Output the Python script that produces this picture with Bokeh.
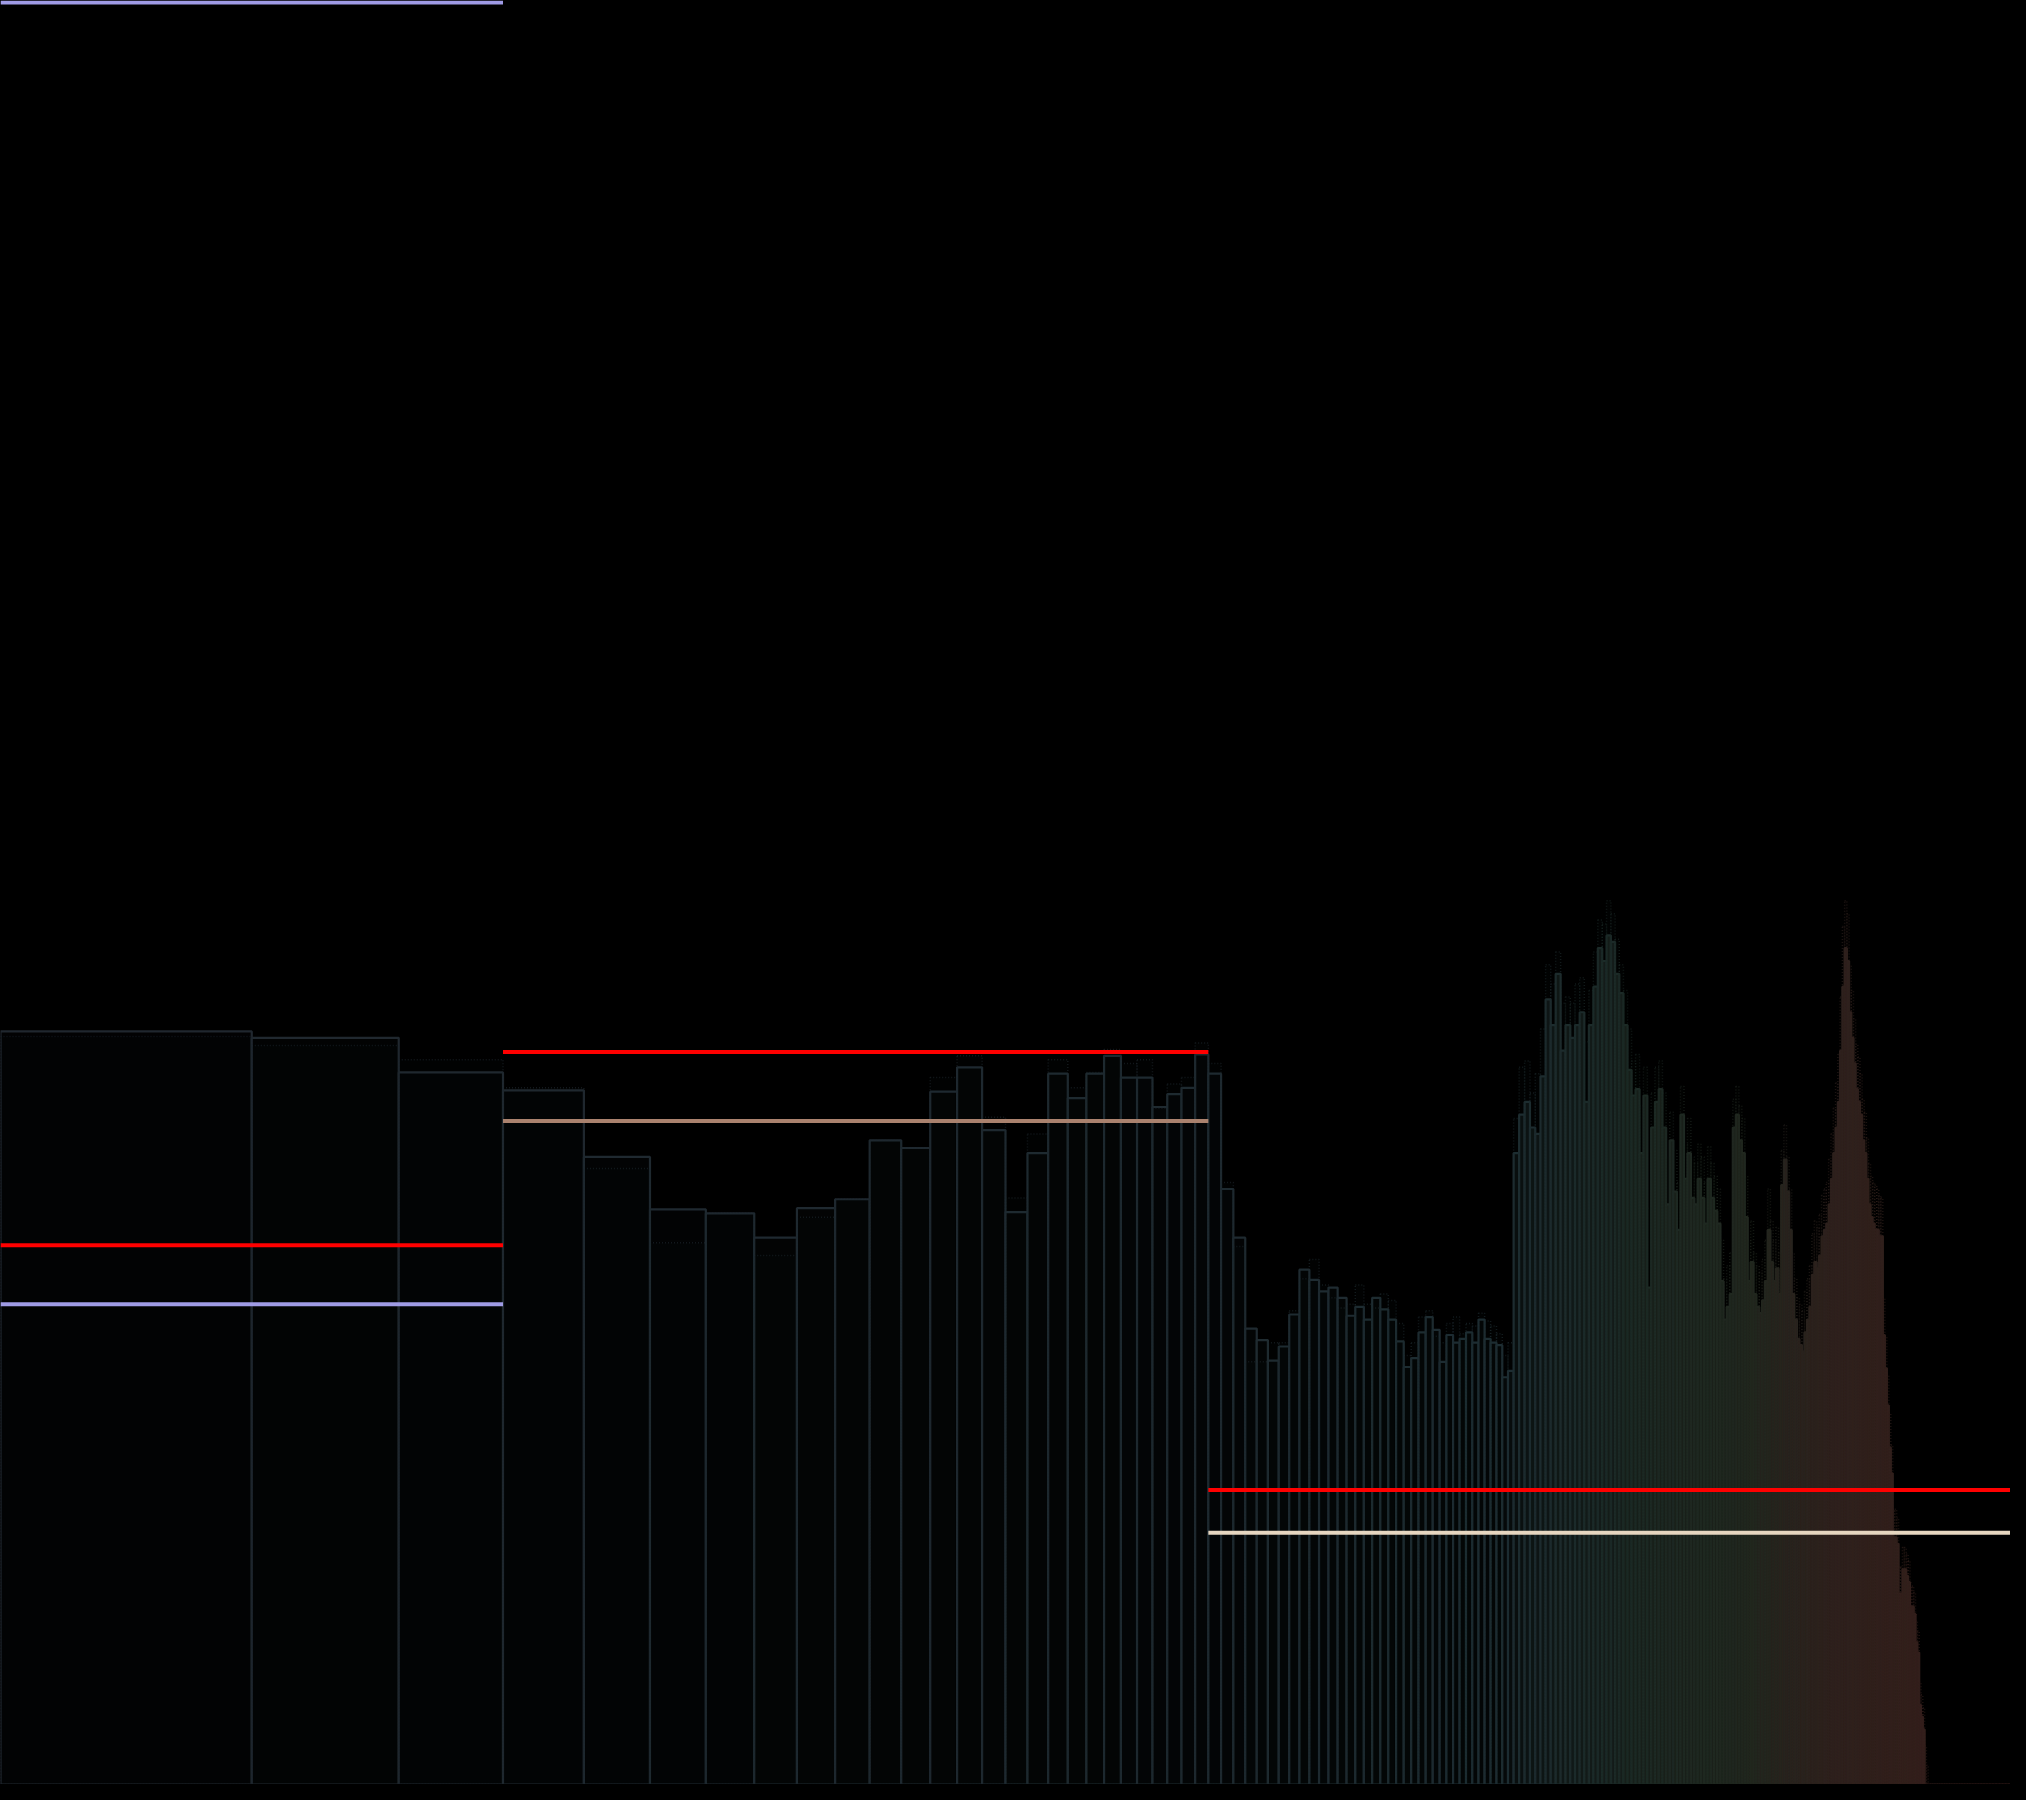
import math
from bokeh.plotting import figure
from bokeh.models import ColumnDataSource, Range1d
from bokeh.embed import file_html
from bokeh.resources import INLINE

# ---- data: 255 FFT bins on a log frequency axis ----
bins = list(range(1, 256))

level = [
    588, 583, 556, 542, 490, 449, 446, 427, 450, 457,
    503, 497, 541, 560, 511, 447, 493, 555, 536, 555,
    569, 552, 552, 529, 539, 544, 570, 555, 465, 427,
    356, 347, 331, 342, 367, 402, 394, 385, 388, 380,
    366, 373, 363, 380, 371, 363, 346, 326, 333, 353,
    365, 355, 330, 351, 345, 348, 353, 345, 363, 348,
    345, 343, 318, 323, 493, 523, 533, 513, 508, 553,
    613, 593, 633, 573, 593, 583, 593, 603, 533, 593,
    623, 653, 643, 663, 658, 633, 618, 593, 558, 538,
    543, 493, 538, 388, 513, 533, 543, 513, 453, 503,
    463, 433, 523, 473, 493, 458, 453, 473, 458, 438,
    473, 458, 448, 438, 393, 363, 373, 383, 513, 523,
    503, 493, 443, 393, 408, 383, 373, 368, 378, 393,
    433, 408, 393, 403, 383, 468, 488, 463, 433, 383,
    363, 348, 343, 338, 353, 363, 373, 398, 408, 403,
    413, 428, 433, 438, 453, 473, 493, 513, 533, 573,
    623, 653, 643, 603, 583, 563, 543, 533, 523, 503,
    493, 473, 453, 443, 438, 433, 433, 428, 428, 351,
    325, 296, 263, 243, 193, 193, 188, 149, 149, 168,
    168, 163, 158, 139, 139, 133, 111, 103, 62, 53,
    43,
] + [0] * 54

prev = [
    584, 577, 566, 544, 481, 423, 446, 413, 443, 457,
    503, 497, 552, 569, 521, 458, 508, 566, 544, 556,
    574, 563, 566, 528, 547, 552, 579, 563, 470, 420,
    330, 330, 345, 345, 370, 395, 410, 390, 380, 372,
    375, 390, 375, 372, 383, 378, 360, 335, 345, 365,
    370, 350, 345, 360, 365, 352, 360, 358, 368, 362,
    358, 352, 335, 345, 520, 560, 565, 540, 555, 590,
    640, 625, 650, 610, 615, 610, 625, 630, 580, 620,
    650, 675, 672, 690, 680, 660, 640, 620, 590, 565,
    570, 530, 560, 450, 540, 560, 565, 540, 490, 525,
    495, 470, 545, 500, 520, 490, 485, 500, 490, 470,
    498, 485, 475, 465, 425, 395, 405, 415, 535, 545,
    530, 520, 475, 425, 440, 415, 405, 400, 410, 425,
    465, 440, 425, 435, 415, 495, 515, 490, 465, 415,
    395, 380, 375, 370, 385, 395, 405, 430, 440, 435,
    445, 460, 465, 470, 488, 508, 528, 548, 570, 615,
    670, 690, 680, 640, 620, 598, 578, 568, 555, 535,
    525, 505, 485, 475, 470, 468, 465, 460, 458, 380,
    350, 320, 290, 265, 215, 215, 208, 170, 170, 185,
    185, 180, 175, 155, 155, 150, 128, 120, 80, 70,
    60, 30, 15,
] + [0] * 52

# ---- bands ----
band_start = [1, 4, 28]
band_end = [4, 28, 256]
band_peak = [421, 572, 230]
band_avg = [375, 518, 196.5]
band_hold = [1391.5]
hold_start = [1]
hold_end = [4]


# ---- styling helpers ----
def ramp(stops, u):
    if u <= stops[0][0]:
        return stops[0][1]
    for (u0, c0), (u1, c1) in zip(stops[:-1], stops[1:]):
        if u0 <= u <= u1:
            t = (u - u0) / (u1 - u0) if u1 > u0 else 0
            return tuple(int(round(a + (b - a) * t)) for a, b in zip(c0, c1))
    return stops[-1][1]


def hexc(c):
    return "#%02x%02x%02x" % c


line_stops = [
    (0.00, (32, 39, 47)), (0.60, (31, 42, 48)), (0.75, (30, 45, 50)),
    (0.81, (29, 42, 38)), (0.87, (34, 40, 32)), (0.91, (46, 34, 30)),
    (0.94, (50, 33, 29)), (1.00, (56, 30, 28)),
]
fill_stops = [
    (0.00, (2, 2, 3)), (0.745, (3, 5, 5)), (0.76, (12, 18, 18)),
    (0.81, (22, 30, 26)), (0.865, (28, 32, 26)), (0.88, (42, 33, 29)),
    (0.905, (52, 34, 30)), (0.94, (60, 37, 33)), (0.96, (64, 37, 34)),
    (1.00, (72, 26, 24)),
]

us = [math.log(b + 0.5) / math.log(256) for b in bins]
line_cols = [hexc(ramp(line_stops, u)) for u in us]
fill_cols = [hexc(ramp(fill_stops, u)) for u in us]

src = ColumnDataSource(dict(
    left=bins, right=[b + 1 for b in bins], top=level, prev=prev,
    lc=line_cols, fc=fill_cols,
))

p = figure(width=2010, height=1784, x_axis_type="log",
           x_range=Range1d(1, 256), y_range=Range1d(0, 1393),
           output_backend="svg", toolbar_location=None,
           background_fill_color="#000000", border_fill_color="#000000",
           outline_line_color=None, min_border=0)
p.axis.visible = False
p.grid.visible = False

p.quad(left="left", right="right", bottom=0, top="top", source=src,
       fill_color="fc", line_color="lc", line_width=2.2)
p.quad(left="left", right="right", bottom=0, top="prev", source=src,
       fill_color="lc", fill_alpha=0.04, line_color="lc", line_alpha=0.6,
       line_width=1.5, line_dash="1 2")

avg_colors = ["#9f9be5", "#aa826e", "#e6d6c0"]
bsrc = ColumnDataSource(dict(x0=band_start, x1=band_end, peak=band_peak,
                             avg=band_avg, col=avg_colors))
p.segment(x0="x0", x1="x1", y0="peak", y1="peak", source=bsrc,
          line_color="#ff0000", line_width=4)
p.segment(x0="x0", x1="x1", y0="avg", y1="avg", source=bsrc,
          line_color="col", line_width=4)
p.segment(x0=hold_start, x1=hold_end, y0=band_hold, y1=band_hold,
          line_color="#9f9be5", line_width=4)

html = file_html(p, INLINE)
html = html.replace("</head>",
                    "<style>html,body{background-color:#000000;}</style></head>", 1)
open("out.html", "w").write(html)
